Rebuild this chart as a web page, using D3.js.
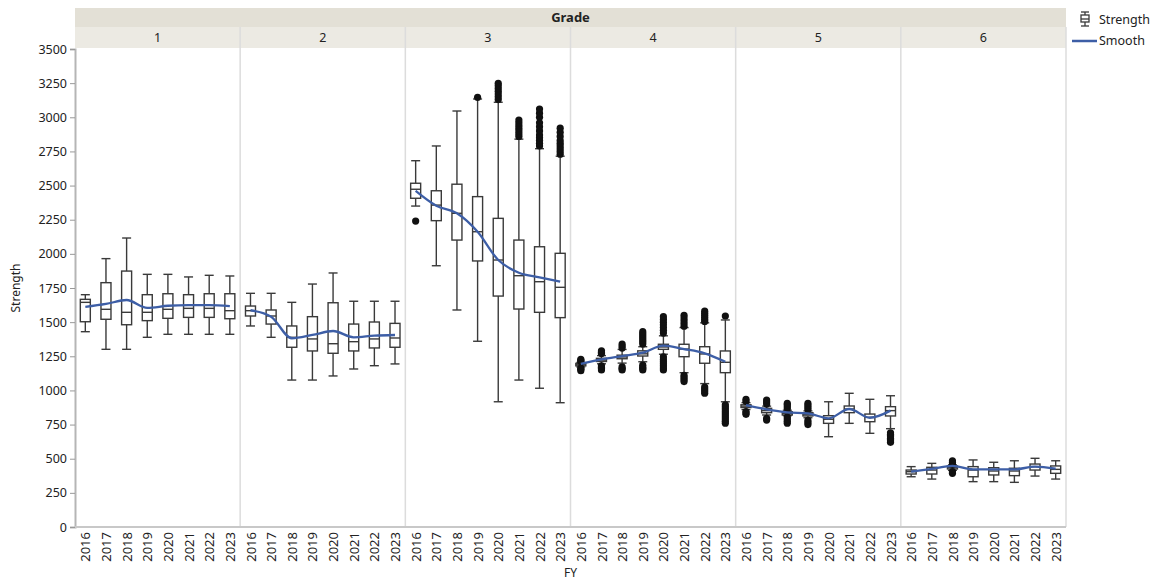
<!DOCTYPE html>
<html>
<head>
<meta charset="utf-8">
<script src="https://cdn.jsdelivr.net/npm/d3@7"></script>
<style>
  body { margin: 0; background: #ffffff; }
  text { font-family: "Noto Sans", "Open Sans", sans-serif; fill: #222; }
</style>
</head>
<body>
<div id="chart"></div>
<script>
// Grades (facets) and fiscal years
const grades = ["1", "2", "3", "4", "5", "6"];
const years = ["2016", "2017", "2018", "2019", "2020", "2021", "2022", "2023"];
const yTicks = [0, 250, 500, 750, 1000, 1250, 1500, 1750, 2000, 2250, 2500, 2750, 3000, 3250, 3500];

// box plot stats, one row per grade, one value per year
const whiskerLo = [
  [1430, 1301, 1301, 1389, 1411, 1411, 1411, 1411],
  [1472, 1389, 1076, 1076, 1106, 1157, 1181, 1194],
  [2350, 1913, 1589, 1360, 917, 1076, 1016, 910],
  [1172, 1195, 1200, 1210, 1265, 1130, 1050, 917],
  [860, 820, 815, 800, 661, 759, 686, 720],
  [368, 351, 415, 332, 332, 327, 373, 351]
];
const q1 = [
  [1503, 1521, 1481, 1511, 1528, 1535, 1535, 1525],
  [1545, 1486, 1316, 1289, 1272, 1289, 1311, 1316],
  [2407, 2243, 2101, 1948, 1691, 1596, 1572, 1533],
  [1180, 1212, 1232, 1252, 1301, 1247, 1199, 1130],
  [875, 837, 820, 813, 759, 837, 771, 813],
  [388, 388, 425, 368, 381, 376, 417, 393]
];
const median = [
  [1645, 1594, 1572, 1572, 1594, 1601, 1601, 1584],
  [1584, 1545, 1389, 1377, 1342, 1357, 1377, 1384],
  [2473, 2357, 2297, 2162, 1955, 1840, 1796, 1755],
  [1188, 1222, 1245, 1268, 1318, 1303, 1267, 1206],
  [885, 852, 830, 822, 789, 864, 803, 852],
  [405, 417, 435, 417, 410, 410, 442, 422]
];
const q3 = [
  [1667, 1789, 1874, 1701, 1708, 1701, 1708, 1708],
  [1618, 1589, 1472, 1540, 1642, 1486, 1501, 1491],
  [2517, 2462, 2510, 2419, 2260, 2101, 2052, 2004],
  [1198, 1235, 1258, 1290, 1338, 1338, 1320, 1289],
  [895, 869, 844, 837, 815, 886, 827, 881],
  [417, 437, 447, 442, 434, 430, 461, 447]
];
const whiskerHi = [
  [1701, 1965, 2116, 1850, 1850, 1831, 1843, 1838],
  [1711, 1711, 1645, 1779, 1860, 1653, 1653, 1653],
  [2682, 2790, 3046, 3134, 3110, 2840, 2770, 2715],
  [1205, 1255, 1300, 1320, 1400, 1460, 1495, 1516],
  [910, 885, 855, 850, 917, 979, 935, 961],
  [442, 466, 455, 491, 474, 485, 503, 485]
];
const outliers = [
  [[], [], [], [], [], [], [], []],
  [[], [], [], [], [], [], [], []],
  [[2240], [], [], [3146],
   [3130, 3150, 3170, 3190, 3210, 3230, 3249],
   [2860, 2880, 2900, 2920, 2940, 2960, 2980],
   [2790, 2810, 2830, 2850, 2870, 2900, 2930, 2960, 3000, 3030, 3060],
   [2730, 2750, 2770, 2790, 2810, 2830, 2860, 2890, 2920]],
  [[1145, 1155, 1163, 1212, 1220, 1228],
   [1150, 1160, 1170, 1180, 1270, 1280, 1290],
   [1150, 1160, 1172, 1310, 1325, 1340],
   [1150, 1160, 1170, 1185, 1340, 1355, 1370, 1385, 1400, 1415, 1430],
   [1150, 1165, 1180, 1195, 1210, 1225, 1245, 1420, 1440, 1460, 1480, 1500, 1520, 1540],
   [1065, 1080, 1095, 1110, 1470, 1490, 1510, 1530, 1550],
   [980, 995, 1010, 1025, 1505, 1520, 1535, 1550, 1565, 1580],
   [760, 775, 790, 805, 820, 835, 850, 865, 880, 895, 1545]],
  [[825, 835, 845, 920, 935], [783, 795, 900, 915, 930],
   [760, 775, 790, 805, 865, 880, 895, 905], [750, 765, 780, 860, 875, 890, 905],
   [], [], [], [620, 630, 640, 650, 660, 670, 680, 690]],
  [[], [], [393, 405, 460, 472, 485], [], [], [], [], []]
];
const smooth = [
  [1611, 1633, 1662, 1604, 1620, 1625, 1625, 1618],
  [1587, 1540, 1382, 1406, 1435, 1389, 1401, 1406],
  [2462, 2353, 2297, 2162, 1955, 1862, 1828, 1796],
  [1194, 1228, 1252, 1276, 1328, 1303, 1272, 1210],
  [893, 862, 840, 832, 796, 864, 800, 852],
  [405, 425, 447, 422, 422, 422, 442, 427]
];

const width = 1156, height = 582;
const plotLeft = 75, plotRight = 1066, plotTop = 49, plotBottom = 527;
const boxStroke = "#3a3a3a";
const blue = "#3d5ea6";

const svg = d3.select("#chart").append("svg")
  .attr("width", width).attr("height", height);

const y = d3.scaleLinear().domain([0, 3500]).range([plotBottom, plotTop]);
const panel = d3.scaleBand().domain(grades).range([plotLeft, plotRight]);
const x = d3.scalePoint().domain(years).range([0, panel.bandwidth()]).padding(0.5);

// header bands
svg.append("rect").attr("x", plotLeft).attr("y", 8).attr("width", plotRight - plotLeft).attr("height", 19)
  .attr("fill", "#e3e0d6");
svg.append("text").attr("x", (plotLeft + plotRight) / 2).attr("y", 22).attr("text-anchor", "middle")
  .style("font-size", "13px").style("font-weight", "bold").text("Grade");
svg.append("rect").attr("x", plotLeft).attr("y", 27).attr("width", plotRight - plotLeft).attr("height", 21)
  .attr("fill", "#eceae3");

grades.forEach(function (g, gi) {
  const px = panel(g);
  svg.append("text").attr("x", px + panel.bandwidth() / 2).attr("y", 42)
    .attr("text-anchor", "middle").style("font-size", "12.5px").text(g);
  if (gi > 0) {
    svg.append("line").attr("x1", px).attr("x2", px).attr("y1", 27).attr("y2", plotBottom)
      .attr("stroke", "#dcdcdc").attr("stroke-width", 1.5);
  }
});
// right border
svg.append("line").attr("x1", plotRight).attr("x2", plotRight).attr("y1", 27).attr("y2", plotBottom)
  .attr("stroke", "#dcdcdc").attr("stroke-width", 1.5);

// y axis
const yAxis = svg.append("g").attr("transform", `translate(${plotLeft},0)`)
  .call(d3.axisLeft(y).tickValues(yTicks).tickFormat(d3.format("d")).tickSize(5).tickPadding(3));
yAxis.select(".domain").attr("stroke", "#b5b5b5").attr("stroke-width", 2);
yAxis.selectAll(".tick line").attr("stroke", "#999");
yAxis.selectAll(".tick text").style("font-size", "12.5px").style("font-family", "Noto Sans, sans-serif").attr("fill", "#222");

svg.append("line").attr("x1", plotLeft).attr("x2", plotRight).attr("y1", plotBottom).attr("y2", plotBottom)
  .attr("stroke", "#c8c8c8").attr("stroke-width", 2);

svg.append("text").attr("transform", `translate(20,${(plotTop + plotBottom) / 2}) rotate(-90)`)
  .attr("text-anchor", "middle").style("font-size", "12px").text("Strength");

// x axis per panel
grades.forEach(function (g) {
  const ax = svg.append("g").attr("transform", `translate(${panel(g)},${plotBottom})`)
    .call(d3.axisBottom(x).tickSize(0).tickPadding(0));
  ax.select(".domain").remove();
  ax.selectAll(".tick text")
    .attr("transform", "rotate(-90)")
    .attr("x", -5).attr("y", 0).attr("dy", "0.35em")
    .attr("text-anchor", "end")
    .style("font-size", "13px").style("font-family", "Noto Sans, sans-serif").attr("fill", "#222");
});
svg.append("text").attr("x", (plotLeft + plotRight) / 2).attr("y", 577).attr("text-anchor", "middle")
  .style("font-size", "12px").text("FY");

// boxes
const boxW = 10, capW = 9;
grades.forEach(function (g, gi) {
  const pg = svg.append("g").attr("transform", `translate(${panel(g)},0)`);
  years.forEach(function (yr, yi) {
    const cx = x(yr);
    const b = pg.append("g").attr("stroke", boxStroke).attr("stroke-width", 1.4);
    b.append("line").attr("x1", cx).attr("x2", cx)
      .attr("y1", y(whiskerLo[gi][yi])).attr("y2", y(whiskerHi[gi][yi]));
    [whiskerLo[gi][yi], whiskerHi[gi][yi]].forEach(function (v) {
      b.append("line").attr("x1", cx - capW / 2).attr("x2", cx + capW / 2)
        .attr("y1", y(v)).attr("y2", y(v));
    });
    b.append("rect").attr("x", cx - boxW / 2).attr("y", y(q3[gi][yi]))
      .attr("width", boxW).attr("height", Math.max(1, y(q1[gi][yi]) - y(q3[gi][yi])))
      .attr("fill", "#fff");
    b.append("line").attr("x1", cx - boxW / 2).attr("x2", cx + boxW / 2)
      .attr("y1", y(median[gi][yi])).attr("y2", y(median[gi][yi]));
    pg.selectAll(null).data(outliers[gi][yi]).enter().append("circle")
      .attr("cx", cx).attr("cy", d => y(d)).attr("r", 3.6).attr("fill", "#111");
  });
  pg.append("path")
    .datum(smooth[gi])
    .attr("fill", "none").attr("stroke", blue).attr("stroke-width", 2.3)
    .attr("d", d3.line().x((d, i) => x(years[i])).y(d => y(d)).curve(d3.curveMonotoneX));
});

// legend
const lg = svg.append("g").attr("stroke", boxStroke).attr("stroke-width", 1.3);
lg.append("line").attr("x1", 1085).attr("x2", 1085).attr("y1", 12).attr("y2", 26);
lg.append("line").attr("x1", 1081).attr("x2", 1089).attr("y1", 12).attr("y2", 12);
lg.append("line").attr("x1", 1081).attr("x2", 1089).attr("y1", 26).attr("y2", 26);
lg.append("rect").attr("x", 1081).attr("y", 15).attr("width", 8).attr("height", 7).attr("fill", "#fff");
lg.append("line").attr("x1", 1081).attr("x2", 1089).attr("y1", 19).attr("y2", 19);
svg.append("text").attr("x", 1099).attr("y", 24).style("font-size", "12.5px").text("Strength");
svg.append("line").attr("x1", 1072).attr("x2", 1097).attr("y1", 41).attr("y2", 41)
  .attr("stroke", blue).attr("stroke-width", 2.5);
svg.append("text").attr("x", 1099).attr("y", 45).style("font-size", "12.5px").text("Smooth");
</script>
</body>
</html>
